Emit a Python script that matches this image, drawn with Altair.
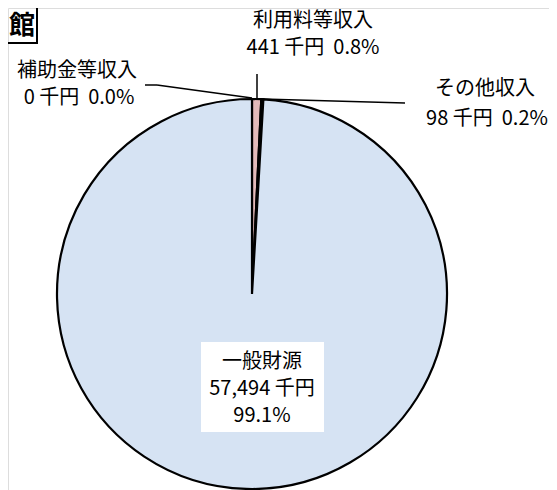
import altair as alt
import pandas as pd

# ---- data ----
categories = ["補助金等収入", "利用料等収入", "その他収入", "一般財源"]
values = [0, 441, 98, 57494]          # 千円
shares = ["0.0%", "0.8%", "0.2%", "99.1%"]
slice_order = [0, 1, 2, 3]
slice_colors = ["#c8c8c8", "#e3baba", "#3a3a3a", "#d6e3f3"]
title_text = "館"

FONT = "Noto Sans CJK JP"
NB = "\u00a0"

df = pd.DataFrame({"cat": categories, "val": values, "ord": slice_order})
one = pd.DataFrame({"k": [0]})

# page coords -> chart coords (8px page margin)
def P(v):
    return v - 8

pie = alt.Chart(df).mark_arc(outerRadius=195, stroke="black", strokeWidth=2.2).encode(
    theta=alt.Theta("val:Q", stack=True),
    order=alt.Order("ord:Q"),
    color=alt.Color("cat:N", scale=alt.Scale(domain=categories, range=slice_colors), legend=None),
    x=alt.value(P(252)),
    y=alt.value(P(294)),
)

def txt(t, x, y, size=20, weight="normal"):
    return alt.Chart(one).mark_text(
        font=FONT, fontSize=size, fontWeight=weight, color="black",
        align="center", baseline="middle",
    ).encode(x=alt.value(P(x)), y=alt.value(P(y)), text=alt.value(t))

def rule(x1, y1, x2, y2, w=1.5):
    return alt.Chart(one).mark_rule(color="black", strokeWidth=w).encode(
        x=alt.value(P(x1)), x2=alt.value(P(x2)), y=alt.value(P(y1)), y2=alt.value(P(y2))
    )

def line2(i):
    return f"{values[i]:,}{NB}千円{NB}{NB}{shares[i]}"

box = alt.Chart(one).mark_rect(fill="white").encode(
    x=alt.value(P(201)), x2=alt.value(P(324)), y=alt.value(P(342)), y2=alt.value(P(432))
)

layers = [
    pie,
    # leader lines
    rule(257, 74, 257, 99),
    rule(145, 85, 157, 85),
    rule(157, 85, 252, 98),
    rule(262, 99, 405, 103),
    # labels
    txt(categories[1], 313, 21),
    txt(line2(1), 313, 48),
    txt(categories[0], 77, 71),
    txt(line2(0), 79, 98),
    txt(categories[2], 485, 89),
    txt(line2(2), 487, 119),
    box,
    txt(categories[3], 262, 362),
    txt(f"{values[3]:,}{NB}千円", 262, 389),
    txt(shares[3], 262, 416),
    # title box (left part cropped)
    txt(title_text, 22, 26, size=26, weight="bold"),
    rule(37, 8, 37, 44, w=2),
    rule(8, 43, 37, 43, w=2),
]

chart = alt.layer(*layers).properties(
    width=541, height=482, padding=0, autosize=alt.AutoSizeParams(type="none")
).configure_view(stroke=None).configure(background="white")

chart.save("out.html", embed_options={"renderer": "svg", "actions": False})
